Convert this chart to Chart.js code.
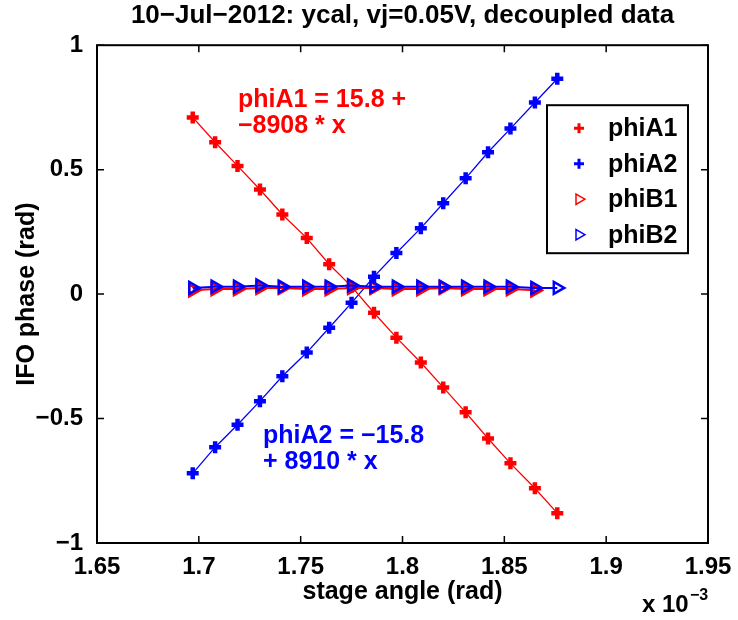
<!DOCTYPE html>
<html>
<head>
<meta charset="utf-8">
<title>ycal decoupled data</title>
<script src="https://cdn.jsdelivr.net/npm/chart.js@4"></script>
<style>
  body { margin: 0; background: #fff; }
  #wrap { width: 738px; height: 620px; }
</style>
</head>
<body>
<div id="wrap"><canvas id="phaseChart" width="738" height="620"></canvas></div>
<script>
// stage angle, units of 1e-3 rad
const stageAngle = [1.697, 1.708, 1.719, 1.730, 1.741, 1.753, 1.764, 1.775, 1.786,
  1.797, 1.809, 1.820, 1.831, 1.842, 1.853, 1.865, 1.876];
const phiA1 = [0.71, 0.61, 0.515, 0.42, 0.32, 0.225, 0.12, 0.03, -0.075, -0.175,
  -0.275, -0.375, -0.475, -0.58, -0.68, -0.78, -0.88];
const phiA2 = [-0.72, -0.615, -0.525, -0.43, -0.33, -0.235, -0.135, -0.035, 0.07,
  0.165, 0.265, 0.365, 0.465, 0.57, 0.665, 0.77, 0.865];
const phiB1 = [0.015, 0.02, 0.02, 0.025, 0.025, 0.02, 0.02, 0.025, 0.025, 0.02,
  0.02, 0.025, 0.02, 0.02, 0.02, 0.015];
const phiB2 = [0.025, 0.03, 0.03, 0.035, 0.03, 0.03, 0.03, 0.035, 0.03, 0.03,
  0.03, 0.03, 0.03, 0.03, 0.03, 0.025, 0.025];
const seriesNames = ["phiA1", "phiA2", "phiB1", "phiB2"];
const fitNotes = [
  { lines: ["phiA1 = 15.8 +", "\u22128908 * x"], x: 1.7192, y: 0.75, color: "#ff0000" },
  { lines: ["phiA2 = \u221215.8", "+ 8910 * x"], x: 1.7315, y: -0.6, color: "#0000ff" }
];

const FONT = "'Liberation Sans', Arial, sans-serif";

function pts(xs, ys) {
  return ys.map((y, i) => ({ x: xs[i], y: y }));
}

// box, inward ticks, legend, fit text and the x 10^-3 multiplier
const matlabBits = {
  id: "matlabBits",
  afterDraw(chart) {
    const ctx = chart.ctx;
    const a = chart.chartArea;
    const xs = chart.scales.x, ys = chart.scales.y;
    ctx.save();
    ctx.strokeStyle = "#000";
    ctx.lineWidth = 1.5;
    ctx.beginPath();
    xs.ticks.forEach(t => {
      const px = xs.getPixelForValue(t.value);
      ctx.moveTo(px, a.bottom); ctx.lineTo(px, a.bottom - 7);
      ctx.moveTo(px, a.top); ctx.lineTo(px, a.top + 7);
    });
    ys.ticks.forEach(t => {
      const py = ys.getPixelForValue(t.value);
      ctx.moveTo(a.left, py); ctx.lineTo(a.left + 7, py);
      ctx.moveTo(a.right, py); ctx.lineTo(a.right - 7, py);
    });
    ctx.stroke();
    ctx.lineWidth = 2;
    ctx.strokeRect(a.left, a.top, a.right - a.left, a.bottom - a.top);

    // fit equations
    ctx.font = "bold 25px " + FONT;
    ctx.textAlign = "left";
    ctx.textBaseline = "alphabetic";
    fitNotes.forEach(n => {
      ctx.fillStyle = n.color;
      const px = xs.getPixelForValue(n.x), py = ys.getPixelForValue(n.y);
      n.lines.forEach((s, i) => ctx.fillText(s, px, py + i * 26));
    });

    // legend
    const lx = a.right - 161, ly = a.top + 60, lw = 141, lh = 148;
    ctx.fillStyle = "#fff";
    ctx.fillRect(lx, ly, lw, lh);
    ctx.strokeStyle = "#000";
    ctx.lineWidth = 2;
    ctx.strokeRect(lx, ly, lw, lh);
    ctx.font = "bold 25px " + FONT;
    ctx.textBaseline = "middle";
    chart.data.datasets.forEach((ds, i) => {
      const cy = ly + 23 + i * 35.5;
      const small = ds.pointStyle === "cross";
      ctx.lineWidth = small ? 3 : 1.5;
      ctx.strokeStyle = ds.pointBorderColor;
      ctx.fillStyle = "rgba(0,0,0,0)";
      Chart.helpers.drawPoint(ctx, {
        pointStyle: ds.pointStyle, rotation: ds.pointRotation || 0,
        radius: small ? 5 : 6, borderWidth: ctx.lineWidth
      }, lx + 32, cy);
      ctx.fillStyle = "#000";
      ctx.fillText(ds.label, lx + 61, cy + 1);
    });

    // axis multiplier
    ctx.fillStyle = "#000";
    ctx.textBaseline = "alphabetic";
    ctx.font = "bold 24px " + FONT;
    ctx.fillText("x 10", a.right - 66, 612);
    ctx.font = "bold 16px " + FONT;
    ctx.fillText("\u22123", a.right - 18, 600);
    ctx.restore();
  }
};

new Chart(document.getElementById("phaseChart"), {
  type: "scatter",
  data: {
    datasets: [
      {
        label: seriesNames[0], data: pts(stageAngle, phiA1), showLine: true,
        borderColor: "#ff0000", borderWidth: 1.3, pointStyle: "cross",
        pointRadius: 6, pointBorderWidth: 4.5, pointBorderColor: "#ff0000", order: 2
      },
      {
        label: seriesNames[1], data: pts(stageAngle, phiA2), showLine: true,
        borderColor: "#0000ff", borderWidth: 1.3, pointStyle: "cross",
        pointRadius: 6, pointBorderWidth: 4.5, pointBorderColor: "#0000ff", order: 3
      },
      {
        label: seriesNames[2], data: pts(stageAngle, phiB1), showLine: true,
        borderColor: "#ff0000", borderWidth: 2, pointStyle: "triangle", pointRotation: 90,
        pointRadius: 7, pointBorderWidth: 2.5, pointBorderColor: "#ff0000",
        pointBackgroundColor: "rgba(0,0,0,0)", order: 1
      },
      {
        label: seriesNames[3], data: pts(stageAngle, phiB2), showLine: true,
        borderColor: "#0000ff", borderWidth: 2, pointStyle: "triangle", pointRotation: 90,
        pointRadius: 7, pointBorderWidth: 2.5, pointBorderColor: "#0000ff",
        pointBackgroundColor: "rgba(0,0,0,0)", order: 0
      }
    ]
  },
  options: {
    responsive: false,
    animation: false,
    layout: { padding: { left: 0, right: 30, top: 0, bottom: 0 } },
    plugins: {
      legend: { display: false },
      tooltip: { enabled: false },
      title: {
        display: true, fullSize: false,
        text: "10\u2212Jul\u22122012: ycal, vj=0.05V, decoupled data",
        color: "#000", font: { family: FONT, size: 26, weight: "bold" },
        padding: { top: 0, bottom: 14 }
      }
    },
    scales: {
      x: {
        type: "linear", min: 1.65, max: 1.95,
        grid: { display: false }, border: { display: false },
        ticks: {
          stepSize: 0.05, padding: 2, color: "#000", maxRotation: 0,
          font: { family: FONT, size: 24, weight: "bold" },
          callback: v => String(Number(v.toFixed(2)))
        },
        title: {
          display: true, text: "stage angle (rad)", color: "#000",
          font: { family: FONT, size: 25, weight: "bold" }, padding: { top: 0, bottom: 13 }
        },
        afterFit: s => { s.height = 77; }
      },
      y: {
        min: -1, max: 1,
        grid: { display: false }, border: { display: false },
        ticks: {
          stepSize: 0.5, padding: 6, color: "#000",
          font: { family: FONT, size: 24, weight: "bold" },
          callback: v => String(Number(v.toFixed(1))).replace("-", "\u2212")
        },
        title: {
          display: true, text: "IFO phase (rad)", color: "#000",
          font: { family: FONT, size: 25, weight: "bold" }, padding: { top: 12, bottom: 0 }
        },
        afterFit: s => { s.width = 97; }
      }
    }
  },
  plugins: [matlabBits]
});
</script>
</body>
</html>
